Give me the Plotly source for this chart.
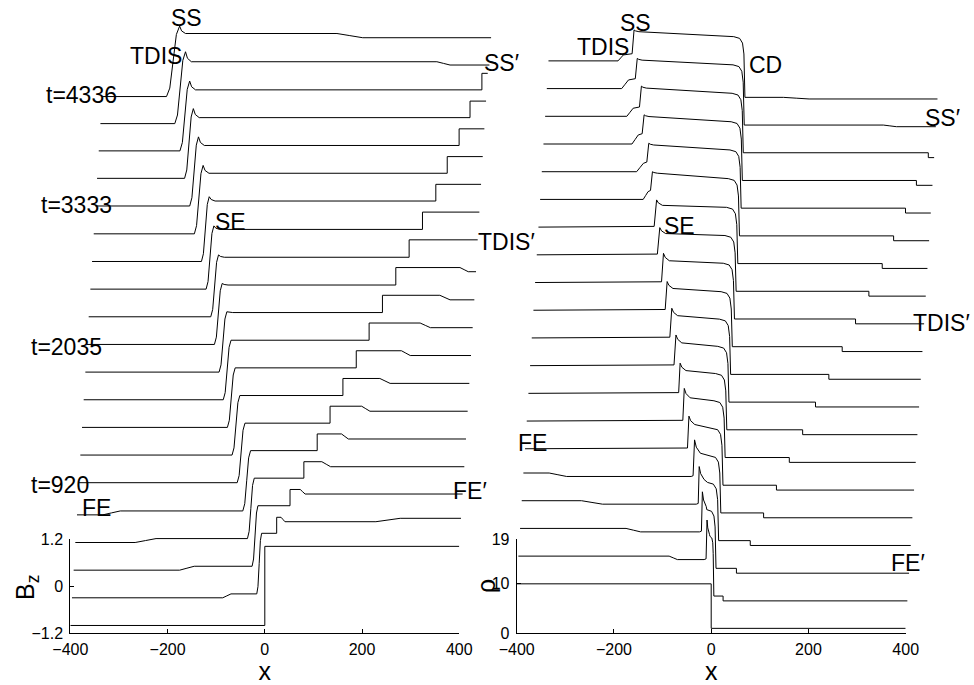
import plotly.graph_objects as go

W, H = 974, 685
FONT = "Liberation Sans, Arial, Helvetica, sans-serif"

# ---------------- waterfall layout of the rows ----------------
N_ROWS = 20
X_SHIFT = 3.44        # x offset added per row (x units)
BZ_ROW_OFF = 0.706    # vertical offset per row, Bz panel
RHO_ROW_OFF = 5.6     # vertical offset per row, rho panel

T_ROWS = [5, 10, 15, 19]
T_TEXT = ["t=920", "t=2035", "t=3333", "t=4336"]

# ---------------- features ----------------
# fast expansion FE (left-going), rows 1-4
FE_ROWS = [1, 2, 3, 4]
FE_X0 = [-90, -182, -277, -347]
FE_X1 = [-73, -152, -234, -311]

# ---- Bz panel, rows 1..19 ----
BZ_FAR_LEFT = -1.0
BZ_ROW0_RIGHT = 1.02
BZ_POSTFE = [-0.90, -0.90, -0.90, -0.90, -0.885, -0.885, -0.885, -0.885, -0.885, -0.885,
             -0.885, -0.885, -0.885, -0.885, -0.88, -0.88, -0.885, -0.895, -0.91]
BZ_RISE_X = [-15, -27, -39, -51, -66, -80, -93, -105, -117, -130,
             -141, -154, -167, -184, -197, -211, -223, -236, -254]
BZ_RISE_W = [10, 12, 14, 16, 16, 16, 16, 16, 16, 16,
             16, 16, 16, 18, 18, 18, 20, 22, 27]
BZ_MID = [0.647, 0.645, 0.643, 0.640, 0.635, 0.635, 0.635, 0.635, 0.635, 0.632,
          0.635, 0.640, 0.659, 0.662, 0.665, 0.670, 0.673, 0.685, 0.700]
BZ_OVERSHOOT = [0, 0, 0, 0, 0, 0, 0, 0, 0.02, 0.04,
                0.06, 0.09, 0.11, 0.20, 0.22, 0.23, 0.225, 0.255, 0.19]

# TDIS' (right-going step), rows 1..17 (shared by both panels)
TD_X = [21, 45, 70, 94, 117, 140, 164, 187, 211, 235, 259, 283, 307, 327, 348, 367, 388]
BZ_TD_HI = [1.056, 1.060, 1.063, 1.066, 1.068, 1.070, 1.072, 1.074, 1.076, 1.078,
            1.080, 1.082, 1.085, 1.087, 1.090, 1.092, 1.095]
# SS' dip behind TDIS', rows 1..10
SSP_X0 = [30, 66, 107, 144, 182, 216, 257, 292, 329, 367]
SSP_X1 = [38, 76, 125, 158, 199, 237, 275, 313, 350, 384]
BZ_SSP_LO = [0.943, 0.944, 0.935, 0.937, 0.940, 0.945, 0.950, 0.955, 0.960, 0.972]
# FE' (right-going fast wave), row 1 only
FEP_ROWS = [1]
FEP_X0 = [225]
FEP_X1 = [275]
BZ_FEP_HI = [1.03]
# reflected wave at late times, rows 18, 19
RW_ROWS = [18, 19]
RW_X0 = [292, 83]
RW_X1 = [319, 136]
BZ_RW_LO = [0.601, 0.592]

# ---- rho panel, rows 1..19 ----
RHO_FAR_LEFT = 10.0
RHO_POSTFE = 9.3
RHO_ROW0_RIGHT = 1.0
RHO_PEAK_X = [-12, -25, -35, -48, -63, -76, -88, -100, -112, -125,
              -136, -147, -157, -169, -180, -193, -202, -214, -224]
RHO_PEAK = [17.3, 17.4, 16.9, 16.7, 15.9, 15.9, 15.4, 15.5, 15.3, 15.1,
            15.2, 14.8, 14.8, 14.9, 15.05, 15.2, 15.4, 15.4, 15.55]
RHO_RISE_W = [2, 2, 2, 3, 3, 3, 3, 4, 4, 4, 4, 5, 5, 4, 4, 4, 4, 4, 4]
RHO_AFTER = [14.4, 14.4, 14.3, 14.0, 14.2, 14.0, 13.9, 13.9, 13.8, 13.7,
             13.7, 13.6, 13.7, 14.6, 14.7, 14.85, 15.0, 15.05, 15.2]
RHO_AFTER_DX = [5, 8, 10, 12, 12, 12, 12, 12, 12, 12, 12, 12, 12, 10, 10, 10, 10, 10, 10]
RHO_CD_Q = [14.0, 13.8, 13.7, 13.5, 13.5, 13.4, 13.3, 13.2, 13.1, 13.05,
            13.2, 13.2, 13.3, 13.5, 13.7, 13.8, 13.95, 14.1, 14.2]
CD_X = [1, 2, 4, 5, 6, 7, 7, 8, 8, 8, 9, 9, 9, 9, 9, 8, 6.5, 5, 3]
RHO_MID = 1.93
RHO_RIGHT = 0.95
# TDIS (left-going) kink ahead of SS, rows 14..19
RT_ROWS = [14, 15, 16, 17, 18, 19]
RT_X0 = [-188, -205, -218, -232, -246, -257]
RT_X1 = [-178, -191, -205, -219, -232, -246]
RHO_RT_HI = [10.87, 11.0, 11.13, 10.93, 11.05, 10.5]
RHO_RW_LO = [1.6, 1.6]


# ---------------- build profiles ----------------
def bz_profile(k):
    if k == 0:
        return [-400, 0, 0, 400], [BZ_FAR_LEFT, BZ_FAR_LEFT, BZ_ROW0_RIGHT, BZ_ROW0_RIGHT]
    i = k - 1
    L = BZ_POSTFE[i]
    xs, ys = [-400], []
    if k in FE_ROWS:
        j = FE_ROWS.index(k)
        ys.append(BZ_FAR_LEFT)
        xs += [FE_X0[j], (FE_X0[j] + FE_X1[j]) / 2, FE_X1[j]]
        ys += [BZ_FAR_LEFT, (BZ_FAR_LEFT + L) / 2, L]
    else:
        ys.append(L)
    xc, w, M, ov = BZ_RISE_X[i], BZ_RISE_W[i], BZ_MID[i], BZ_OVERSHOOT[i]
    hi = M + ov
    d = hi - L
    xs += [xc - w / 2, xc - w / 4, xc, xc + w / 4, xc + w / 2]
    ys += [L, L + 0.12 * d, L + 0.5 * d, hi - 0.12 * d, hi]
    if ov > 0:
        xs += [xc + w / 2 + 4, xc + w / 2 + 12]
        ys += [M + 0.35 * ov, M]
    level = M
    if i < len(TD_X):
        t = TD_X[i]
        xs += [t, t]
        ys += [M, BZ_TD_HI[i]]
        level = BZ_TD_HI[i]
        if i < len(SSP_X0):
            a, b, lo = SSP_X0[i], SSP_X1[i], BZ_SSP_LO[i]
            xs += [a, (a + b) / 2, b]
            ys += [level, (level + lo) / 2, lo]
            level = lo
        if k in FEP_ROWS:
            j = FEP_ROWS.index(k)
            a, b, h2 = FEP_X0[j], FEP_X1[j], BZ_FEP_HI[j]
            xs += [a, (a + b) / 2, b]
            ys += [level, (level + h2) / 2, h2]
            level = h2
    elif k in RW_ROWS:
        j = RW_ROWS.index(k)
        a, b, lo = RW_X0[j], RW_X1[j], BZ_RW_LO[j]
        xs += [a, (a + b) / 2, b]
        ys += [level, (level + lo) / 2, lo]
        level = lo
    xs.append(400)
    ys.append(level)
    return xs, ys


def rho_profile(k):
    if k == 0:
        return [-400, 0, 0, 400], [RHO_FAR_LEFT, RHO_FAR_LEFT, RHO_ROW0_RIGHT, RHO_ROW0_RIGHT]
    i = k - 1
    L = RHO_POSTFE
    xs, ys = [-400], []
    if k in FE_ROWS:
        j = FE_ROWS.index(k)
        ys.append(RHO_FAR_LEFT)
        xs += [FE_X0[j], (FE_X0[j] + FE_X1[j]) / 2, FE_X1[j]]
        ys += [RHO_FAR_LEFT, (RHO_FAR_LEFT + L) / 2, L]
    else:
        ys.append(L)
    xp, P = RHO_PEAK_X[i], RHO_PEAK[i]
    if k in RT_ROWS:
        j = RT_ROWS.index(k)
        a, b, hT = RT_X0[j], RT_X1[j], RHO_RT_HI[j]
        xs += [a, (a + b) / 2, b, xp - RHO_RISE_W[i]]
        ys += [L, (L + hT) / 2, hT, hT + 0.25]
    else:
        xs += [xp - RHO_RISE_W[i] - 4, xp - RHO_RISE_W[i]]
        ys += [L, L + 0.15]
    xs.append(xp)
    ys.append(P)
    Qa, dx = RHO_AFTER[i], RHO_AFTER_DX[i]
    xs += [xp + 0.3 * dx, xp + dx]
    ys += [Qa + 0.45 * (P - Qa), Qa]
    cd, Q = CD_X[i], RHO_CD_Q[i]
    s = min(22, cd - (xp + dx) - 1)
    xs += [cd - s, cd - 0.45 * s, cd - 0.18 * s, cd - 0.05 * s, cd + 1]
    ys += [Q, Q - 0.35, Q - 1.3, Q - 3.5, RHO_MID]
    level = RHO_MID
    if i < len(TD_X):
        t = TD_X[i]
        xs += [t, t]
        ys += [RHO_MID, RHO_RIGHT]
        level = RHO_RIGHT
    elif k in RW_ROWS:
        j = RW_ROWS.index(k)
        a, b, lo = RW_X0[j], RW_X1[j], RHO_RW_LO[j]
        xs += [a, (a + b) / 2, b]
        ys += [level, (level + lo) / 2, lo]
        level = lo
    xs.append(400)
    ys.append(level)
    return xs, ys


fig = go.Figure()
for k in range(N_ROWS):
    # row 0 lies inside the framed axes; the shifted rows go on full-height overlay axes
    bxa, bya = ("x", "y") if k == 0 else ("x3", "y3")
    rxa, rya = ("x2", "y2") if k == 0 else ("x4", "y4")
    bx, by = bz_profile(k)
    fig.add_trace(go.Scatter(
        x=[v + k * X_SHIFT for v in bx], y=[v + k * BZ_ROW_OFF for v in by],
        mode="lines", line=dict(color="black", width=1),
        xaxis=bxa, yaxis=bya, showlegend=False, hoverinfo="skip"))
    rx, ry = rho_profile(k)
    fig.add_trace(go.Scatter(
        x=[v + k * X_SHIFT for v in rx], y=[v + k * RHO_ROW_OFF for v in ry],
        mode="lines", line=dict(color="black", width=1),
        xaxis=rxa, yaxis=rya, showlegend=False, hoverinfo="skip"))

# ---------------- axes ----------------
LX_DOM = [70.3 / W, 459.3 / W]
RX_DOM = [516.7 / W, 905.7 / W]
Y_DOM = [(H - 633.3) / H, (H - 539.3) / H]
X_RANGE = [-400, 400]
BZ_RANGE = [-1.2, 1.2]
RHO_RANGE = [0, 19]


def extend(rng, dom, new_dom):
    scale = (rng[1] - rng[0]) / (dom[1] - dom[0])
    return [rng[0] - (dom[0] - new_dom[0]) * scale, rng[1] + (new_dom[1] - dom[1]) * scale]


frame_common = dict(showline=True, linecolor="black", linewidth=1, ticks="inside",
                    ticklen=4, tickwidth=1, tickcolor="black", showgrid=False,
                    zeroline=False, automargin=False,
                    tickfont=dict(size=16, family=FONT, color="black"))

X_TICKS = [-400, -200, 0, 200, 400]
X_TICKTEXT = ["\u2212400", "\u2212200", "0", "200", "400"]

fig.update_layout(
    width=W, height=H, margin=dict(l=0, r=0, t=0, b=0, autoexpand=False),
    paper_bgcolor="white", plot_bgcolor="rgba(0,0,0,0)",
    font=dict(family=FONT, color="black"), showlegend=False,
    xaxis=dict(domain=LX_DOM, range=X_RANGE, anchor="y", tickvals=X_TICKS, ticktext=X_TICKTEXT,
               ticklabelstandoff=1,
               title=dict(text="x", font=dict(size=25, family=FONT), standoff=6), **frame_common),
    yaxis=dict(domain=Y_DOM, range=BZ_RANGE, anchor="x", tickvals=[-1.2, 0, 1.2],
               ticktext=["\u22121.2", "0", "1.2"], ticklabelstandoff=3, **frame_common),
    xaxis2=dict(domain=RX_DOM, range=X_RANGE, anchor="y2", tickvals=X_TICKS, ticktext=X_TICKTEXT,
                ticklabelstandoff=1,
                title=dict(text="x", font=dict(size=25, family=FONT), standoff=6), **frame_common),
    yaxis2=dict(domain=Y_DOM, range=RHO_RANGE, anchor="x2", tickvals=[0, 10, 19],
                ticktext=["0", "10", "19"], ticklabelstandoff=3, **frame_common),
    xaxis3=dict(domain=[0, 0.52], range=extend(X_RANGE, LX_DOM, [0, 0.52]), anchor="y3",
                visible=False, automargin=False),
    yaxis3=dict(domain=[0, 1], range=extend(BZ_RANGE, Y_DOM, [0, 1]), anchor="x3",
                visible=False, automargin=False),
    xaxis4=dict(domain=[0.5, 1.0], range=extend(X_RANGE, RX_DOM, [0.5, 1.0]), anchor="y4",
                visible=False, automargin=False),
    yaxis4=dict(domain=[0, 1], range=extend(RHO_RANGE, Y_DOM, [0, 1]), anchor="x4",
                visible=False, automargin=False),
)

# y-axis titles (placed tight against the tick labels, as in the original)
Y_TITLES = [("B<sub>z</sub>", 27, 588), ("\u03c1", 486, 586)]
for txt, lx, ly in Y_TITLES:
    fig.add_annotation(text=txt, x=lx / W, y=1 - ly / H, xref="paper", yref="paper",
                       xanchor="center", yanchor="middle", textangle=-90, showarrow=False,
                       font=dict(size=25, family=FONT, color="black"))

# ---------------- labels ----------------
LABELS = [  # text, x px, y px, anchor
    ("SS", 186.7, 17.5, "center"), ("TDIS", 156, 56, "center"),
    ("SS\u2032", 501, 62.5, "center"), ("SE", 230, 222, "center"),
    ("TDIS\u2032", 506, 242, "center"), ("FE", 96.5, 508, "center"),
    ("FE\u2032", 470, 490.5, "center"),
    ("SS", 635, 22.5, "center"), ("TDIS", 602.5, 47.5, "center"),
    ("CD", 765.5, 65, "center"), ("SS\u2032", 942, 118, "center"),
    ("SE", 679, 226, "center"), ("TDIS\u2032", 941.5, 323, "center"),
    ("FE", 532.5, 442.5, "center"), ("FE\u2032", 907.5, 562.5, "center"),
]
T_POS = [(29, 485), (29, 346.7), (39, 205), (44, 95)]
for txt, (tx, ty) in zip(T_TEXT, T_POS):
    LABELS.append((txt, tx, ty, "left"))

for txt, lx, ly, anc in LABELS:
    fig.add_annotation(text=txt, x=lx / W, y=1 - ly / H, xref="paper", yref="paper",
                       xanchor=anc, yanchor="middle", showarrow=False,
                       font=dict(size=23, family=FONT, color="black"))

fig.write_html("out.html")
